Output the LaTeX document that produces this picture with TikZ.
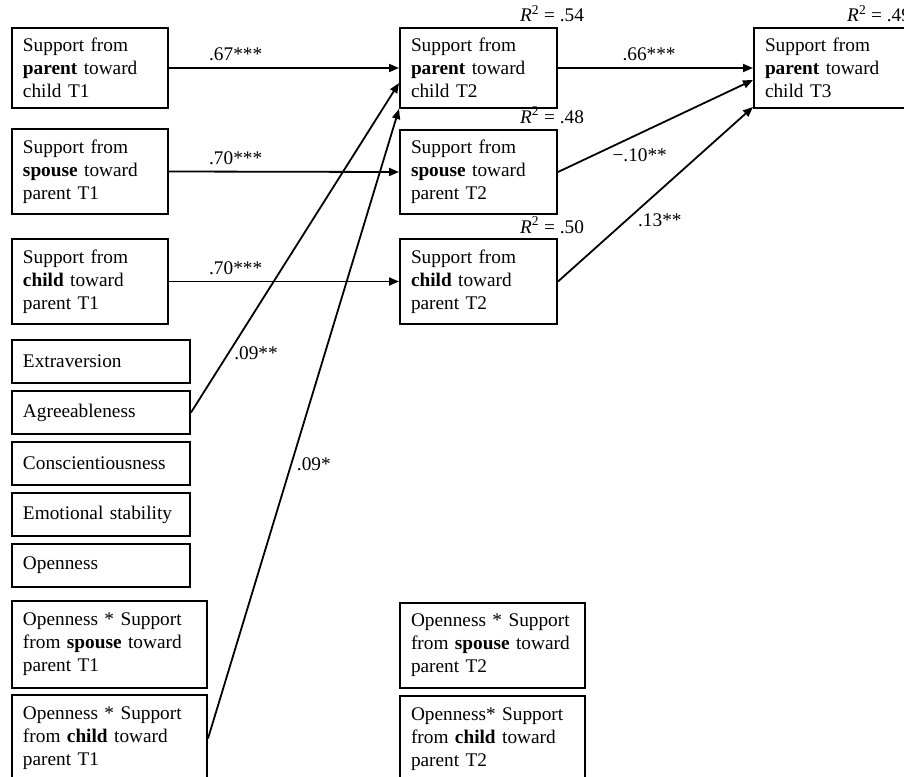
\documentclass[tikz,border=0pt]{standalone}
\usepackage{fontspec}
\setmainfont{Liberation Serif}
\usetikzlibrary{arrows.meta,calc}

\begin{document}
\begin{tikzpicture}[x=1pt,y=1pt,yscale=-1,xscale=1,
  box/.style={draw,line width=2pt,anchor=north west,align=left,inner xsep=11pt,inner ysep=0pt,font=\fontsize{19.3}{23}\selectfont},
  link/.style={line width=1.8pt,-{Triangle[length=10pt,width=8pt]}},
  coef/.style={font=\fontsize{19.3}{23}\selectfont,inner sep=1pt},
  rsq/.style={font=\fontsize{19.3}{23}\selectfont,inner sep=0pt,anchor=base west}]
\clip (0,0) rectangle (904,776);

%Boxes: support at T1
\node[box,text width=134,minimum height=80] (p1) at (11,27) {Support from\\\textbf{parent} toward\\child T1};
\node[box,text width=134,minimum height=85] (s1) at (11,128) {Support from\\\textbf{spouse} toward\\parent T1};
\node[box,text width=134,minimum height=85] (c1) at (11,238) {Support from\\\textbf{child} toward\\parent T1};

%Boxes: personality
\node[box,text width=156,minimum height=43] (ext) at (11,339) {Extraversion};
\node[box,text width=156,minimum height=43] (agr) at (11,390) {Agreeableness};
\node[box,text width=156,minimum height=43] (con) at (11,441) {Conscientiousness};
\node[box,text width=156,minimum height=43] (emo) at (11,492) {Emotional stability};
\node[box,text width=156,minimum height=43] (ope) at (11,543) {Openness};

%Boxes: interactions T1
\node[box,text width=173,minimum height=87] (os1) at (11,600) {Openness * Support\\from \textbf{spouse} toward\\parent T1};
\node[box,text width=173,minimum height=87] (oc1) at (11,694) {Openness * Support\\from \textbf{child} toward\\parent T1};

%Boxes: T2
\node[box,text width=135,minimum height=80] (p2) at (399,27) {Support from\\\textbf{parent} toward\\child T2};
\node[box,text width=135,minimum height=84] (s2) at (399,129) {Support from\\\textbf{spouse} toward\\parent T2};
\node[box,text width=135,minimum height=85] (c2) at (399,238) {Support from\\\textbf{child} toward\\parent T2};
\node[box,text width=163,minimum height=85] (os2) at (399,602) {Openness * Support\\from \textbf{spouse} toward\\parent T2};
\node[box,text width=163,minimum height=87] (oc2) at (399,695) {Openness* Support\\from \textbf{child} toward\\parent T2};

%Box: T3
\node[box,text width=135,minimum height=80] (p3) at (753,27) {Support from\\\textbf{parent} toward\\child T3};

% R squared
\node[rsq] (r2p2) at (520,22) {\textit{R}\textsuperscript{2} = .54};
\node[rsq] (r2s2) at (520,123) {\textit{R}\textsuperscript{2} = .48};
\node[rsq] (r2c2) at (520,233) {\textit{R}\textsuperscript{2} = .50};
\node[rsq] (r2p3) at (847,22) {\textit{R}\textsuperscript{2} = .49};

%Paths T1 -> T2
\draw[link] (p1.east) -- node[coef,above=5pt,pos=0.29] (b67) {.67***} (p2.west);
\draw[link] (s1.east) -- node[coef,above=5pt,pos=0.29] (b70s) {.70***} (s2.west);
\draw[link] (c1.east) -- node[coef,above=5pt,pos=0.29] (b70c) {.70***} (c2.west);
\draw[link] (agr.east) -- node[coef,right=4pt,pos=0.18] (b09a) {.09**} ($(p2.west)+(0,15)$);
\draw[link] (oc1.east) -- node[coef,right=4pt,pos=0.435] (b09o) {.09*} (p2.south west);

%Paths T2 -> T3
\draw[link] (p2.east) -- node[coef,above=5pt,pos=0.467] (b66) {.66***} (p3.west);
\draw[link] (s2.east) -- node[coef,anchor=north west,pos=0.27] (b10) {−.10**} ($(p3.west)+(0,12)$);
\draw[link] (c2.east) -- node[coef,right=10pt,pos=0.35] (b13) {.13**} ($(p3.south west)+(0,-2)$);

\end{tikzpicture}
\end{document}
